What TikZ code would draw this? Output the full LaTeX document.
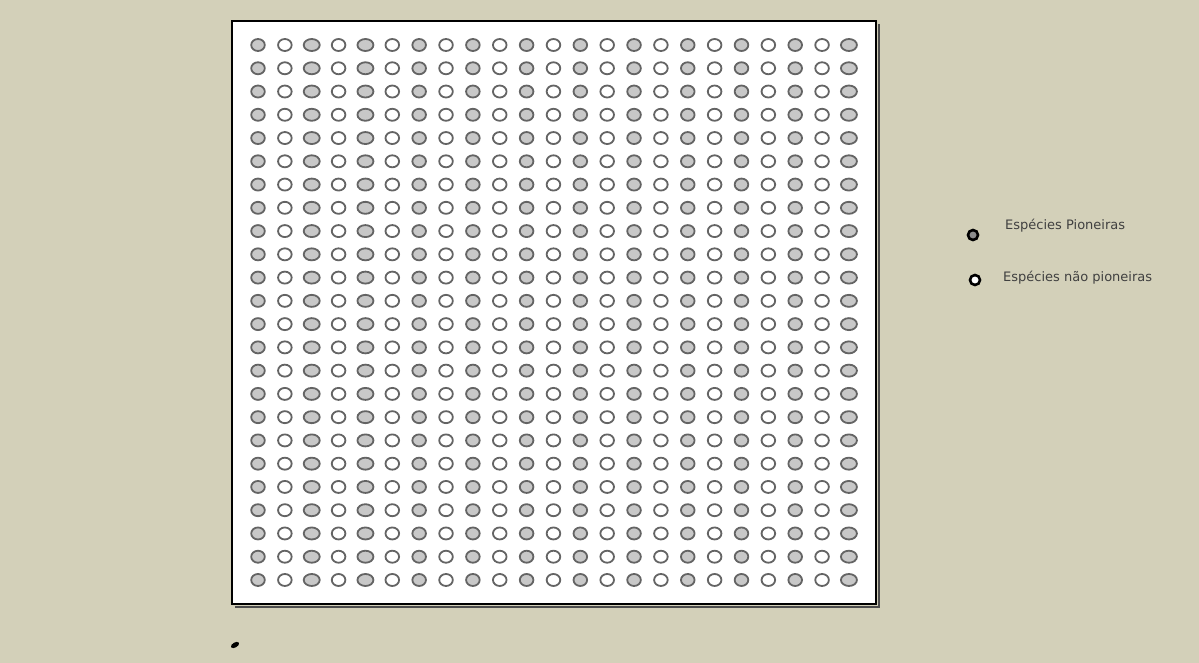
\documentclass[tikz,border=0pt]{standalone}
\usepackage{fontspec}
\newfontfamily\legendfont{DejaVu Sans}
\usetikzlibrary{positioning}
\definecolor{bgbeige}{RGB}{211,208,185}
\definecolor{dotgray}{RGB}{200,200,200}
\definecolor{dotedge}{RGB}{100,100,100}

\begin{document}
\begin{tikzpicture}[x=1pt,y=-1pt,
  pdot/.style={draw=dotedge,line width=1.8pt,fill=dotgray},
  npdot/.style={draw=dotedge,line width=1.8pt,fill=white},
  legmark/.style={circle,draw=black,line width=2.6pt,minimum size=10pt,inner sep=0pt},
  legtext/.style={font=\legendfont\fontsize{13}{15}\selectfont,text=black!75,anchor=west,inner sep=0pt}]
\fill[bgbeige] (0,0) rectangle (1199,663);
\useasboundingbox (0,0) rectangle (1199,663);
\fill[white] (232,21) rectangle (876,604);
\draw[black!70,line width=1.5pt] (879,24) -- (879,607) -- (235,607);
\draw[black,line width=2.2pt] (232,21) rectangle (876,604);
\foreach \r in {0,...,23}{
  \foreach \c in {0,...,22}{
    \pgfmathsetmacro{\px}{258+26.86*\c}
    \pgfmathsetmacro{\py}{45+23.26*\r}
    \pgfmathsetmacro{\rx}{(\c==2 || \c==4 || \c==22) ? 8 : 6.8}
    \ifodd\c
      \draw[npdot] (\px,\py) ellipse [x radius=\rx,y radius=6];
    \else
      \draw[pdot] (\px,\py) ellipse [x radius=\rx,y radius=6];
    \fi
  }
}
\node[legmark,fill=dotgray!70!black] (pmark) at (973,235) {};
\node[legtext] (ptext) at (1005,226) {Espécies Pioneiras};
\node[legmark,fill=white] (npmark) at (975,280) {};
\node[legtext] (nptext) at (1003,278) {Espécies não pioneiras};
\fill[black,rotate around={30:(235,645)}] (235,645) ellipse [x radius=4.5,y radius=2.5];
\end{tikzpicture}
\end{document}
